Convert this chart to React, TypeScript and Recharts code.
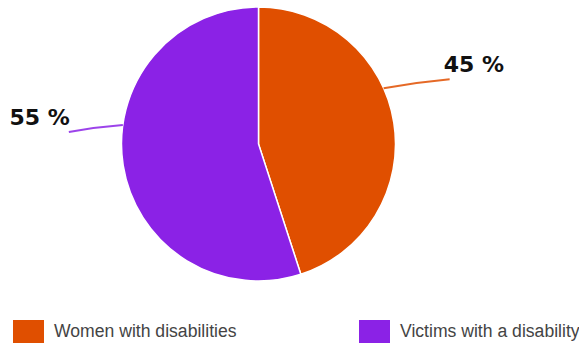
import React from "react";
import { PieChart, Pie, Cell } from "recharts";

const categories = ["Women with disabilities", "Victims with a disability"];
const values = [45, 55];
const colors = ["#E04F00", "#8B22E6"];
const labelTexts = ["45 %", "55 %"];

const data = categories.map((name, i) => ({ name, value: values[i] }));

const RAD = Math.PI / 180;

// angular shift of the label anchor relative to the slice middle, per slice
const anchorShift = [15, -17];

const renderLabel = (props: any) => {
  const { cx, cy, midAngle, outerRadius, index } = props;
  const a0 = (midAngle + anchorShift[index]) * RAD;
  const sx = cx + outerRadius * Math.cos(a0);
  const sy = cy - outerRadius * Math.sin(a0);
  const right = Math.cos(a0) >= 0;
  const ex = right ? sx + 66 : sx - 54;
  const ey = right ? sy - 9 : sy + 7;
  const mx = (sx + ex) / 2;
  const my = (sy + ey) / 2 - 1.5;
  return (
    <g key={`lbl-${index}`}>
      <path
        d={`M${sx},${sy} Q${mx},${my} ${ex},${ey}`}
        stroke={colors[index]}
        strokeWidth={2}
        fill="none"
        opacity={0.85}
      />
      <text
        x={right ? ex - 6 : ex + 1}
        y={right ? ey - 7.5 : ey - 6.5}
        textAnchor={right ? "start" : "end"}
        fontFamily="DejaVu Sans"
        fontWeight="bold"
        fontSize={22}
        fill="#111"
      >
        {labelTexts[index]}
      </text>
    </g>
  );
};

const legendX = [13, 359];

export default function App() {
  return (
    <div style={{ position: "absolute", left: 0, top: 0, width: 579, height: 347, background: "#fff" }}>
      <PieChart width={579} height={347} margin={{ top: 0, right: 0, bottom: 0, left: 0 }}>
        <Pie
          data={data}
          dataKey="value"
          nameKey="name"
          cx={258.5}
          cy={144}
          outerRadius={137}
          startAngle={90}
          endAngle={-270}
          stroke="#fff"
          strokeWidth={1.5}
          label={renderLabel}
          labelLine={false}
          isAnimationActive={false}
        >
          {data.map((d, i) => (
            <Cell key={d.name} fill={colors[i]} />
          ))}
        </Pie>
      </PieChart>
      {categories.map((name, i) => (
        <div
          key={name}
          style={{
            position: "absolute",
            left: legendX[i],
            top: 320,
            display: "flex",
            alignItems: "center",
            height: 23,
          }}
        >
          <div style={{ width: 31, height: 23, background: colors[i], marginRight: 10 }} />
          <span
            style={{
              fontFamily: "Liberation Sans, Arial, sans-serif",
              fontSize: 17.6,
              color: "#444",
              whiteSpace: "nowrap",
            }}
          >
            {name}
          </span>
        </div>
      ))}
    </div>
  );
}
